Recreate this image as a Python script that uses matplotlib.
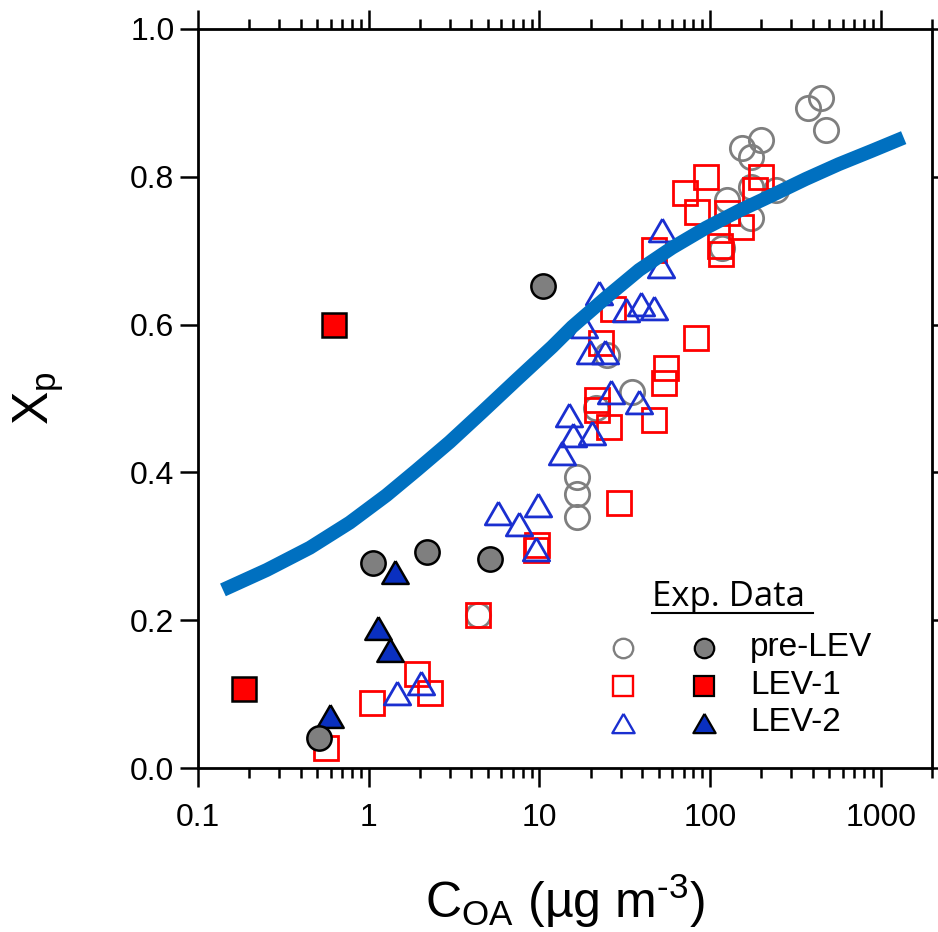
import matplotlib
matplotlib.use("Agg")
import matplotlib.pyplot as plt
from matplotlib.lines import Line2D
from matplotlib.ticker import FixedLocator, LogLocator, NullFormatter

plt.rcParams["font.family"] = ["Liberation Sans", "DejaVu Sans"]
plt.rcParams["mathtext.default"] = "regular"

# partitioning model curve
model_coa = [0.14, 0.253, 0.452, 0.774, 1.27, 1.91, 2.98, 4.64, 7.33, 11.9, 15.6, 24.7, 38.5, 60.0, 94.8,
             148, 231, 364, 568, 885, 1365]
model_xp = [0.241, 0.268, 0.298, 0.332, 0.369, 0.403, 0.441, 0.482, 0.525, 0.570, 0.597, 0.637, 0.674, 0.704,
            0.731, 0.754, 0.775, 0.797, 0.817, 0.835, 0.853]

# pre-LEV
pre_open_coa = [4.40, 16.7, 16.7, 16.7, 35.0, 25.0, 21.5, 154, 199, 174, 126, 174, 243, 174, 117, 374, 446, 477]
pre_open_xp = [0.207, 0.394, 0.371, 0.340, 0.509, 0.559, 0.487, 0.839, 0.850, 0.827, 0.769, 0.786, 0.782,
               0.744, 0.704, 0.893, 0.907, 0.863]
pre_fill_coa = [10.55, 1.055, 2.21, 5.17, 0.51]
pre_fill_xp = [0.652, 0.277, 0.292, 0.283, 0.041]

# LEV-1
lev1_open_coa = [0.56, 1.04, 1.91, 2.30, 4.40, 9.73, 9.6, 29.4, 21.8, 21.8, 25.6, 47.1, 23.1, 27.1, 82.8,
                 55.3, 53.8, 47.1, 94.8, 71.5, 83.9, 126, 152, 199, 183, 114, 116]
lev1_open_xp = [0.027, 0.088, 0.127, 0.101, 0.207, 0.302, 0.295, 0.359, 0.498, 0.484, 0.461, 0.471, 0.575,
                0.621, 0.582, 0.541, 0.521, 0.701, 0.800, 0.778, 0.752, 0.751, 0.732, 0.800, 0.782, 0.706, 0.696]
lev1_fill_coa = [0.624, 0.186]
lev1_fill_xp = [0.60, 0.107]

# LEV-2
lev2_open_coa = [1.46, 2.04, 5.75, 7.64, 9.87, 9.6, 13.5, 15.8, 15.0, 20.4, 26.4, 38.5, 52.4, 51.6, 22.4,
                 32.3, 39.5, 47.1, 18.3, 19.9, 24.3]
lev2_open_xp = [0.101, 0.115, 0.345, 0.330, 0.356, 0.296, 0.426, 0.451, 0.478, 0.453, 0.509, 0.495, 0.728,
                0.679, 0.643, 0.620, 0.628, 0.622, 0.598, 0.563, 0.563]
lev2_fill_coa = [1.42, 1.13, 1.33, 0.59]
lev2_fill_xp = [0.265, 0.189, 0.160, 0.070]

x_ticks = [0.1, 1, 10, 100, 1000]
x_tick_labels = ["0.1", "1", "10", "100", "1000"]
y_ticks = [0.0, 0.2, 0.4, 0.6, 0.8, 1.0]

legend_labels = ["pre-LEV", "LEV-1", "LEV-2"]

GRAY = "#7f7f7f"
RED = "#ff0000"
BLUE_EDGE = "#1a2fd0"
BLUE_FILL = "#0a30c0"
LINE_BLUE = "#0070c0"

# equilateral triangle pointing up
TRI = [(0, 0.866), (-1, -0.866), (1, -0.866), (0, 0.866)]

fig = plt.figure(figsize=(9.38, 9.32), dpi=100)
ax = fig.add_axes([198 / 938, 164 / 932, 734 / 938, 739 / 932])

ax.plot(pre_open_coa, pre_open_xp, ls="none", marker="o", ms=17.5, mfc="none", mec=GRAY, mew=2.0, zorder=2)
ax.plot(lev1_open_coa, lev1_open_xp, ls="none", marker="s", ms=17, mfc="none", mec=RED, mew=2.0, zorder=3)
ax.plot(lev2_open_coa, lev2_open_xp, ls="none", marker=TRI, ms=19, mfc="none", mec=BLUE_EDGE, mew=2.0, zorder=4)
ax.plot(lev2_fill_coa, lev2_fill_xp, ls="none", marker=TRI, ms=19, mfc=BLUE_FILL, mec="black", mew=1.8, zorder=5)
ax.plot(lev1_fill_coa, lev1_fill_xp, ls="none", marker="s", ms=17, mfc=RED, mec="black", mew=1.8, zorder=5)
ax.plot(pre_fill_coa, pre_fill_xp, ls="none", marker="o", ms=17.5, mfc=GRAY, mec="black", mew=1.8, zorder=6)

ax.plot(model_coa, model_xp, color=LINE_BLUE, lw=10, solid_capstyle="butt", solid_joinstyle="round", zorder=7)

ax.set_xscale("log")
ax.set_xlim(0.1, 2000)
ax.set_ylim(0.0, 1.0)

ax.xaxis.set_major_locator(FixedLocator(x_ticks))
ax.set_xticklabels(x_tick_labels)
ax.xaxis.set_minor_locator(LogLocator(base=10, subs=range(2, 10)))
ax.xaxis.set_minor_formatter(NullFormatter())
ax.set_yticks(y_ticks)
ax.set_yticklabels([f"{v:.1f}" for v in y_ticks])

for side in ax.spines.values():
    side.set_linewidth(2.0)

ax.tick_params(axis="x", which="major", direction="out", length=13.5, width=1.8, top=True,
               labelsize=23, pad=12)
ax.tick_params(axis="x", which="minor", direction="out", length=7, width=1.8, top=True)
ax.tick_params(axis="y", which="major", direction="out", length=13, width=1.8, right=True,
               labelsize=23, pad=4)

ax.set_xlabel("C$_{OA}$ (µg m$^{\u20103}$)", fontsize=36, labelpad=28)
ax.set_ylabel("X$_{p}$", fontsize=36, labelpad=46)

# legend block drawn by hand
ax.text(0.6185, 0.2314, "Exp. Data", transform=ax.transAxes, fontsize=25, family=["Open Sans", "DejaVu Sans"],
        ha="left", va="center")
ax.add_line(Line2D([0.6185, 0.838], [0.2097, 0.2097], transform=ax.transAxes, color="black", lw=1.5))

rows_y = [0.1624, 0.111, 0.0609]
open_styles = [("o", 14, GRAY), ("s", 14, RED), (TRI, 16, BLUE_EDGE)]
fill_styles = [("o", 14, GRAY), ("s", 14, RED), (TRI, 16, BLUE_FILL)]
for y, label, (m1, s1, c1), (m2, s2, c2) in zip(rows_y, legend_labels, open_styles, fill_styles):
    ax.plot([0.579], [y], transform=ax.transAxes, marker=m1, ms=s1, mfc="none", mec=c1, mew=1.7,
            ls="none", clip_on=False)
    ax.plot([0.689], [y], transform=ax.transAxes, marker=m2, ms=s2, mfc=c2, mec="black", mew=1.6,
            ls="none", clip_on=False)
    ax.text(0.752, y, label, transform=ax.transAxes, fontsize=24, ha="left", va="center")

fig.savefig("out.png", dpi=100)
